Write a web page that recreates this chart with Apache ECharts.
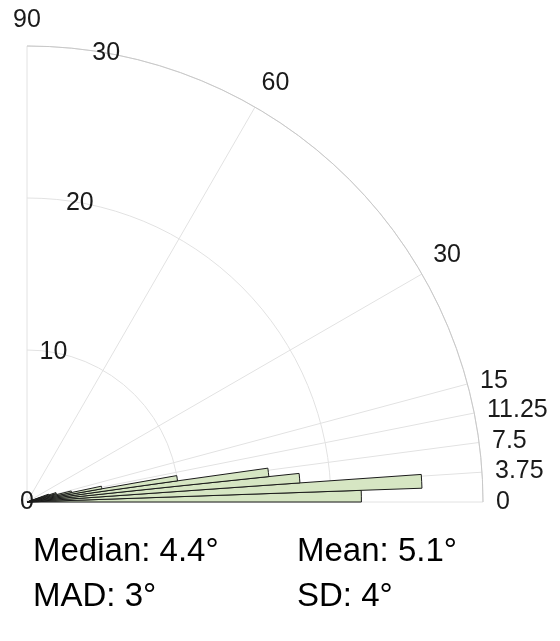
<!DOCTYPE html>
<html>
<head>
<meta charset="utf-8">
<title>Angle histogram</title>
<script src="https://cdn.jsdelivr.net/npm/echarts@6/dist/echarts.min.js"></script>
<style>
  html, body { margin: 0; padding: 0; background: #fff; }
  #chart { width: 560px; height: 641px; }
</style>
</head>
<body>
<div id="chart"></div>
<script>
// angle bins (degrees) and counts
const binStart = [0, 2, 4, 6, 8, 10, 12, 14, 16, 18];
const binEnd = [2, 4, 6, 8, 10, 12, 14, 16, 18, 20];
const binCount = [22, 26, 18, 16, 10, 5, 3, 2, 2, 1.5];

// axis ticks
const angleTicks = [0, 3.75, 7.5, 11.25, 15, 30, 60, 90];
const radiusTicks = [0, 10, 20, 30];
const radiusLabelAngle = 80;

// summary stats under the plot
const statNames = ["Median", "Mean", "MAD", "SD"];
const statValues = ["4.4°", "5.1°", "3°", "4°"];

const FONT = "Liberation Sans, Arial, Helvetica, sans-serif";

// polar sector for one bin, sized through the polar scales
const renderBin = (params, api) => {
  const cs = params.coordSys;
  const p0 = api.coord([api.value(2), api.value(0)]);
  const p1 = api.coord([api.value(2), api.value(1)]);
  const r = Math.hypot(p0[0] - cs.cx, p0[1] - cs.cy);
  const a0 = Math.atan2(p0[1] - cs.cy, p0[0] - cs.cx);
  const a1 = Math.atan2(p1[1] - cs.cy, p1[0] - cs.cx);
  return {
    type: "sector",
    shape: { cx: cs.cx, cy: cs.cy, r0: 0, r: r, startAngle: a1, endAngle: a0, clockwise: true },
    style: { fill: "#d6e6c3", stroke: "#1a1a1a", lineWidth: 1 },
  };
};

const statText = statNames.map((name, i) => ({
  type: "text",
  x: i % 2 === 0 ? 33 : 297,
  y: i < 2 ? 552 : 597,
  style: {
    text: name + ": " + statValues[i],
    font: "33px " + FONT,
    fill: "#000",
    verticalAlign: "middle",
  },
}));

const options = {
  animation: false,
  polar: {
    center: [27, 502],
    radius: 456,
  },
  angleAxis: {
    type: "value",
    min: 0,
    max: 90,
    startAngle: 0,
    endAngle: 90,
    clockwise: false,
    axisLine: { lineStyle: { color: "#c8c8c8", width: 1 } },
    axisTick: { show: false, customValues: angleTicks },
    axisLabel: {
      customValues: angleTicks,
      margin: 13,
      fontSize: 25,
      color: "#1a1a1a",
      fontFamily: FONT,
      formatter: (v) => String(v),
    },
    splitLine: { show: true, lineStyle: { color: "#e2e2e2", width: 1 } },
  },
  radiusAxis: {
    type: "value",
    min: 0,
    max: 30,
    interval: 10,
    axisLine: { show: false },
    axisTick: { show: false },
    axisLabel: { show: false },
    splitLine: { show: true, lineStyle: { color: "#e2e2e2", width: 1 } },
  },
  series: [
    {
      type: "custom",
      coordinateSystem: "polar",
      renderItem: renderBin,
      encode: { radius: 2, angle: [0, 1] },
      data: binStart.map((s, i) => [s, binEnd[i], binCount[i]]),
    },
    {
      // radius tick labels along the 80 degree ray
      type: "scatter",
      coordinateSystem: "polar",
      symbolSize: 1,
      itemStyle: { color: "rgba(0,0,0,0)", opacity: 1 },
      silent: true,
      z: 5,
      label: {
        show: true,
        position: "inside",
        fontSize: 25,
        color: "#1a1a1a",
        opacity: 1,
        fontFamily: FONT,
        formatter: (p) => String(p.value[0]),
      },
      data: radiusTicks.map((r) => [r, radiusLabelAngle]),
    },
  ],
  graphic: statText,
};

const chart = echarts.init(document.getElementById("chart"), null, { renderer: "canvas" });
chart.setOption(options);
</script>
</body>
</html>
